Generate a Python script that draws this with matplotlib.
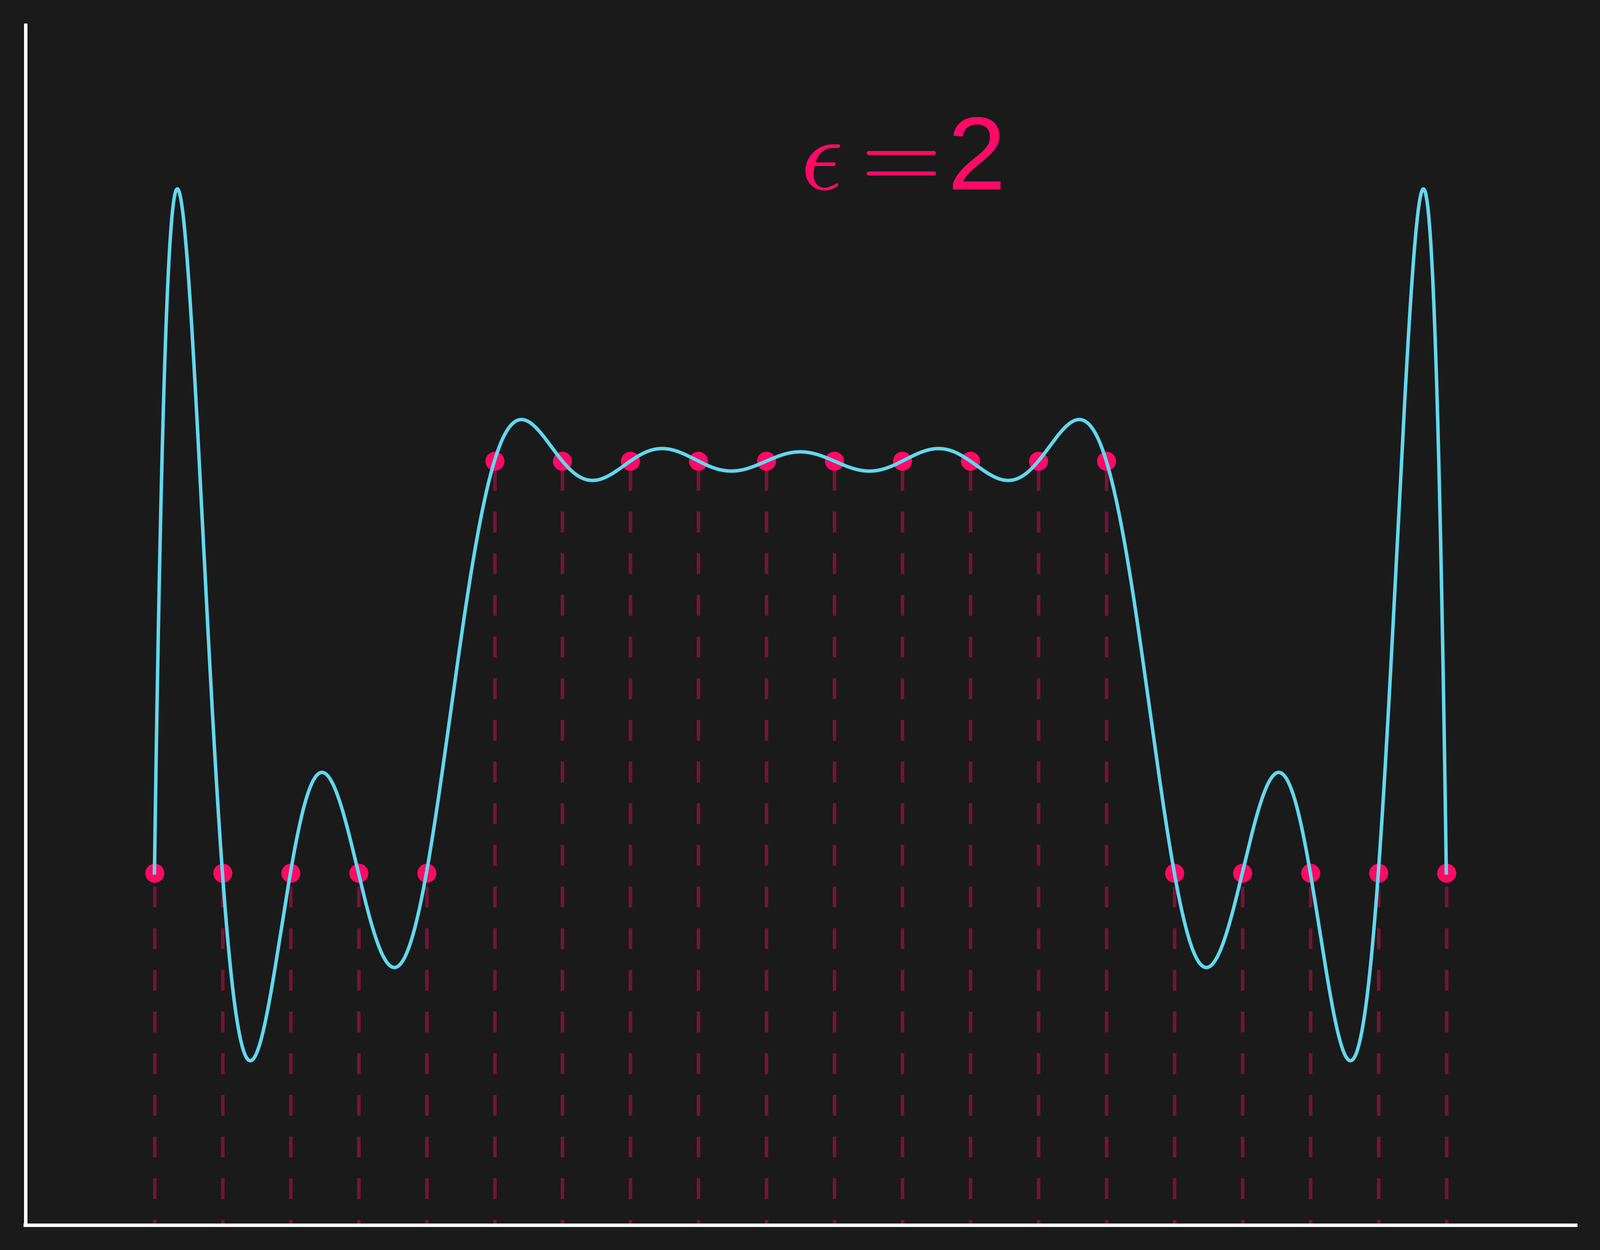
import numpy as np
import matplotlib
matplotlib.use("Agg")
import matplotlib.pyplot as plt

# data
node_x = np.linspace(0, 1, 20)
node_y = np.array([0, 0, 0, 0, 0, 1, 1, 1, 1, 1, 1, 1, 1, 1, 1, 0, 0, 0, 0, 0], dtype=float)
epsilon = 2.0
label_text = r"$\epsilon=\hspace{-0.137}$2"

BG = "#1a1a1a"
PINK = "#ff0a64"
CYAN = "#62d8ef"


def kernel(r):
    # multiquadric radial basis function
    return np.sqrt(1 + (epsilon * r) ** 2)


def rbf_interp(xs):
    A = kernel(np.abs(node_x[:, None] - node_x[None, :]))
    w = np.linalg.solve(A, node_y)
    return kernel(np.abs(xs[:, None] - node_x[None, :])) @ w


xs = np.linspace(node_x[0], node_x[-1], 2000)
ys = rbf_interp(xs)

fig = plt.figure(figsize=(3199 / 250, 10), dpi=250, facecolor=BG)
ax = fig.add_axes([50.5 / 3199, 50 / 2500, (3150 - 50.5) / 3199, (2450 - 50) / 2500])
ax.set_facecolor(BG)
ax.set_xlim(-0.1, 1.1)
ax.set_ylim(-0.855, 2.059)

ax.vlines(node_x, -0.893, node_y, colors=PINK, alpha=0.4, linewidth=2,
          linestyles=(0, (6, 6)), zorder=1)
ax.scatter(node_x, node_y, s=120, color=PINK, zorder=2, linewidths=0)
ax.plot(xs, ys, color=CYAN, lw=2, zorder=3)

ax.text(0.5, 1.66, label_text, color=PINK, fontsize=60, family="Liberation Sans",
        math_fontfamily="cm", ha="left", va="baseline")

for s in ("top", "right"):
    ax.spines[s].set_visible(False)
for s in ("left", "bottom"):
    ax.spines[s].set_color("white")
    ax.spines[s].set_linewidth(2)
ax.set_xticks([])
ax.set_yticks([])

fig.savefig("out.png", dpi=250, facecolor=BG)
